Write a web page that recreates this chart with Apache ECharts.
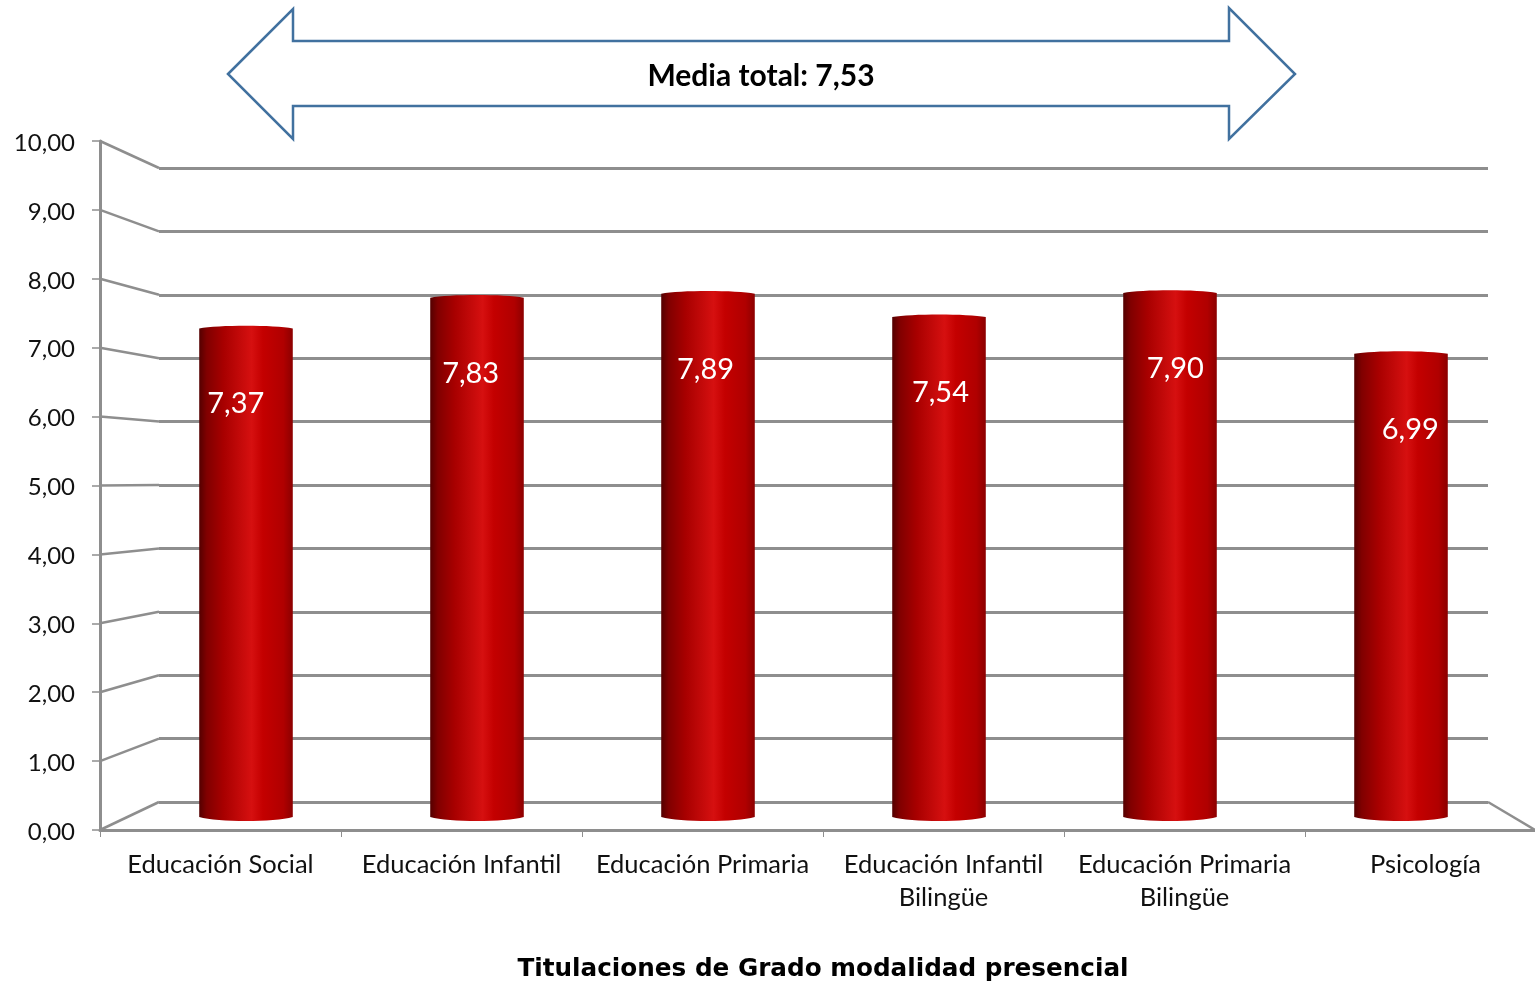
<!DOCTYPE html>
<html><head><meta charset="utf-8">
<style>html,body{margin:0;padding:0;background:#fff}#c{width:1535px;height:983px}</style>
<script src="https://cdn.jsdelivr.net/npm/echarts@6/dist/echarts.min.js"></script>
</head><body><div id="c"></div>
<script>
const categories = ['Educación Social','Educación Infantil','Educación Primaria','Educación Infantil\nBilingüe','Educación Primaria\nBilingüe','Psicología'];
const values = [7.37,7.83,7.89,7.54,7.90,6.99];
const meanLabel = 'Media total: ';
const meanValue = '7,53';
const xTitle = 'Titulaciones de Grado modalidad presencial';

const FONT = 'Lato';
const GRAY = '#8e8e8e';
const fmt = v => v.toFixed(2).replace('.', ',');
const chart = echarts.init(document.getElementById('c'), null, {renderer:'canvas'});

const barGrad = new echarts.graphic.LinearGradient(0,0,1,0,[
  {offset:0,color:'#540000'},{offset:0.08,color:'#800000'},{offset:0.26,color:'#a80000'},
  {offset:0.56,color:'#d61010'},{offset:0.68,color:'#c40000'},{offset:0.9,color:'#b00000'},{offset:1,color:'#8c0000'}]);

function renderBar(params, api){
  const i = api.value(0), v = api.value(1);
  const top = api.coord([i, v]), base = api.coord([i, 0]);
  const w = api.size([1,0])[0]*0.405, x0 = top[0]-w/2, x1 = top[0]+w/2;
  const topEdge = top[1]+1.5, bot = base[1]-3;
  const cx = w*0.2;
  const path = `M${x0} ${topEdge}C${x0+cx} ${topEdge-3.5} ${x1-cx} ${topEdge-3.5} ${x1} ${topEdge}L${x1} ${bot}C${x1-cx} ${bot+5.3} ${x0+cx} ${bot+5.3} ${x0} ${bot}Z`;
  const lx = top[0] + (i-2.5)*3.9 - 0.5;
  return {type:'group',children:[
    {type:'path',shape:{pathData:path},style:{fill:barGrad}},
    {type:'text',style:{text:fmt(v),x:lx,y:top[1]+77,fill:'#fff',font:'29px '+FONT,align:'center',verticalAlign:'middle'},z2:5}
  ]};
}

chart.setOption({
  animation:false,
  backgroundColor:'#fff',
  textStyle:{fontFamily:FONT},
  grid:[
    {left:100,top:141,width:1446,height:689,outerBoundsMode:'none'},
    {left:159,top:168,width:1329,height:634,outerBoundsMode:'none'},
    {left:130.5,top:151,width:1386,height:669,outerBoundsMode:'none'}
  ],
  xAxis:[
    {gridIndex:0,type:'category',data:categories,boundaryGap:true,
     axisLine:{show:true,lineStyle:{color:GRAY,width:3}},
     axisTick:{show:true,length:7,lineStyle:{color:GRAY,width:1}},
     axisLabel:{interval:0,hideOverlap:false,color:'#111',fontFamily:FONT,fontSize:25.5,lineHeight:33,margin:18},
     name:xTitle,nameLocation:'middle',nameGap:127,
     nameTextStyle:{fontFamily:'DejaVu Sans',fontWeight:'bold',fontSize:24.7,color:'#000'}},
    {gridIndex:1,type:'category',show:false,data:categories},
    {gridIndex:2,type:'category',show:false,data:categories}
  ],
  yAxis:[
    {gridIndex:0,type:'value',min:0,max:10,interval:1,
     axisLine:{show:true,lineStyle:{color:GRAY,width:3}},
     axisTick:{show:true,length:8,lineStyle:{color:GRAY,width:1.5}},
     splitLine:{show:false},
     axisLabel:{color:'#111',fontFamily:FONT,fontSize:24,margin:25,
       formatter:v=>'{t|'+fmt(v)+'}',
       rich:{t:{color:'#111',fontFamily:FONT,fontSize:24,padding:[4,0,0,0]}}}},
    {gridIndex:1,type:'value',min:0,max:10,interval:1,
     axisLine:{show:false},axisTick:{show:false},axisLabel:{show:false},
     splitLine:{show:true,lineStyle:{color:GRAY,width:3}}},
    {gridIndex:2,type:'value',min:0,max:10,show:false,splitLine:{show:false}}
  ],
  series:[{type:'custom',xAxisIndex:2,yAxisIndex:2,z:5,renderItem:renderBar,clip:false,
    encode:{x:0,y:1},data:values.map((v,i)=>[i,v])}]
});

// side wall and floor edge, from the scales of the front and back planes
const ticks = [0,1,2,3,4,5,6,7,8,9,10];
const wallLine = {stroke:GRAY,lineWidth:2.5};
const wall = ticks.map(t=>{
  const a = chart.convertToPixel({xAxisIndex:0,yAxisIndex:0},[0,t]);
  const b = chart.convertToPixel({xAxisIndex:1,yAxisIndex:1},[0,t]);
  return {type:'line',z:2,shape:{x1:100,y1:a[1],x2:159,y2:b[1]},style:wallLine};
});
const y0f = chart.convertToPixel({xAxisIndex:0,yAxisIndex:0},[0,0])[1];
const y0b = chart.convertToPixel({xAxisIndex:1,yAxisIndex:1},[0,0])[1];
wall.push({type:'line',z:2,shape:{x1:1488,y1:y0b,x2:1535,y2:y0f},style:wallLine});

chart.setOption({graphic:[...wall,
  {type:'polygon',z:10,shape:{points:[[228,74],[293,9],[293,41],[1229,41],[1229,8],[1295,74],[1229,139],[1229,106],[293,106],[293,139]]},
   style:{fill:'#fff',stroke:'#41719f',lineWidth:2.5}},
  {type:'text',z:11,x:761,y:76,style:{
    text:'{b|'+meanLabel+'}{n|'+meanValue+'}',align:'center',verticalAlign:'middle',
    rich:{b:{fontFamily:FONT,fontWeight:'bold',fontSize:30,fill:'#000',color:'#000'},
          n:{fontFamily:FONT,fontWeight:'bold',fontSize:30,fill:'#000',color:'#000'}}}}
]});
</script></body></html>
